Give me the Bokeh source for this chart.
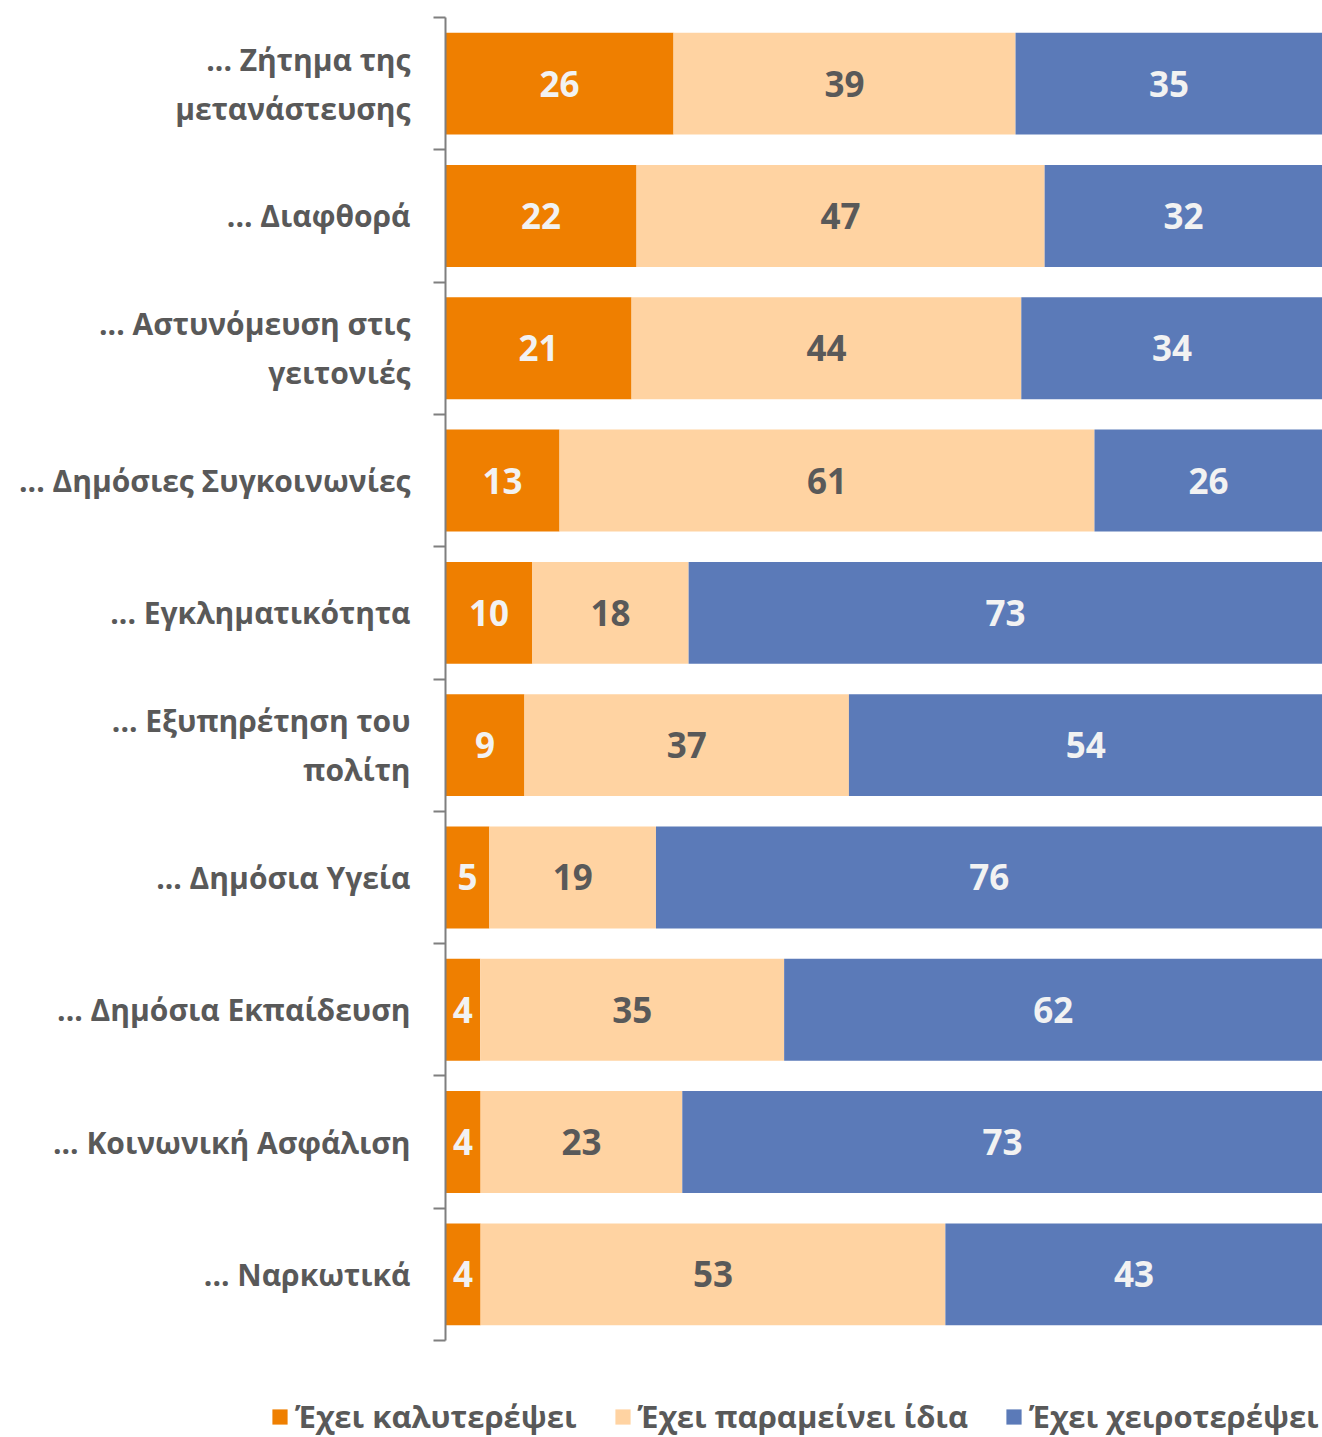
from bokeh.plotting import figure
from bokeh.layouts import column
from bokeh.models import ColumnDataSource, FixedTicker, Legend, LegendItem, LabelSet
from bokeh.core.properties import value
from bokeh.embed import file_html
from bokeh.resources import INLINE

categories = [
    "... Ζήτημα της\nμετανάστευσης",
    "... Διαφθορά",
    "... Αστυνόμευση στις\nγειτονιές",
    "... Δημόσιες Συγκοινωνίες",
    "... Εγκληματικότητα",
    "... Εξυπηρέτηση του\nπολίτη",
    "... Δημόσια Υγεία",
    "... Δημόσια Εκπαίδευση",
    "... Κοινωνική Ασφάλιση",
    "... Ναρκωτικά",
]
better = [26, 22, 21, 13, 10, 9, 5, 4, 4, 4]
same = [39, 47, 44, 61, 18, 37, 19, 35, 23, 53]
worse = [35, 32, 34, 26, 73, 54, 76, 62, 73, 43]
series_names = ["Έχει καλυτερέψει", "Έχει παραμείνει ίδια", "Έχει χειροτερέψει"]
colors = ["#EF7F00", "#FFD3A2", "#5B7AB8"]
label_colors = ["#F2F2F2", "#595959", "#F2F2F2"]

FONT = "Open Sans"
n = len(categories)
ypos = [n - i - 0.5 for i in range(n)]

p = figure(width=1322, height=1342, output_backend="svg", toolbar_location=None,
           x_range=(0, 100), y_range=(0, n), x_axis_location=None,
           min_border_left=445, min_border_right=0, min_border_top=17, min_border_bottom=2)
p.outline_line_color = None
p.grid.visible = False
p.frame_align = False

series = [better, same, worse]
totals = [b + s + w for b, s, w in zip(better, same, worse)]
left = [0.0] * n
for k, vals in enumerate(series):
    pct = [v / t * 100 for v, t in zip(vals, totals)]
    right = [l + q for l, q in zip(left, pct)]
    src = ColumnDataSource(dict(y=ypos, left=left, right=right,
                                mid=[(a + b) / 2 for a, b in zip(left, right)],
                                lab=[str(v) for v in vals]))
    p.hbar(y="y", left="left", right="right", height=0.77, source=src,
           fill_color=colors[k], line_color=None)
    ls = LabelSet(x="mid", y="y", text="lab", source=src, text_align="center",
                  text_baseline="middle", text_font=value(FONT), text_font_style="bold",
                  text_font_size="35px", text_color=label_colors[k])
    p.add_layout(ls)
    left = right

ax = p.yaxis[0]
ax.ticker = FixedTicker(ticks=ypos, minor_ticks=list(range(n + 1)))
ax.major_label_overrides = {y: c for y, c in zip(ypos, categories)}
ax.major_tick_line_color = None
ax.minor_tick_out = 12
ax.minor_tick_in = 0
ax.minor_tick_line_color = "#7F7F7F"
ax.minor_tick_line_width = 2
ax.axis_line_color = "#7F7F7F"
ax.axis_line_width = 2
ax.major_label_standoff = 23
ax.major_label_text_font = FONT
ax.major_label_text_font_style = "bold"
ax.major_label_text_font_size = "30px"
ax.major_label_text_color = "#595959"

# legend strip below the chart
pl = figure(width=1322, height=95, output_backend="svg", toolbar_location=None,
            x_range=(0, 1), y_range=(0, 1), x_axis_location=None, y_axis_location=None,
            min_border_left=0, min_border_right=0, min_border_top=0, min_border_bottom=0)
pl.outline_line_color = None
pl.grid.visible = False
pl.frame_align = False
items = []
for k in range(3):
    r = pl.hbar(y=[5], left=[5], right=[6], height=1, fill_color=colors[k], line_color=None)
    items.append(LegendItem(label=series_names[k], renderers=[r]))
legend = Legend(items=items, orientation="horizontal", location=(270, 0),
                label_text_font=FONT, label_text_font_style="bold", label_text_font_size="31px",
                label_text_color="#595959", glyph_width=19, glyph_height=19,
                label_standoff=6, spacing=36, padding=3, margin=0, border_line_color=None,
                background_fill_alpha=0)
pl.add_layout(legend, "center")

layout = column(p, pl, spacing=0)
open("out.html", "w").write(file_html(layout, INLINE))
